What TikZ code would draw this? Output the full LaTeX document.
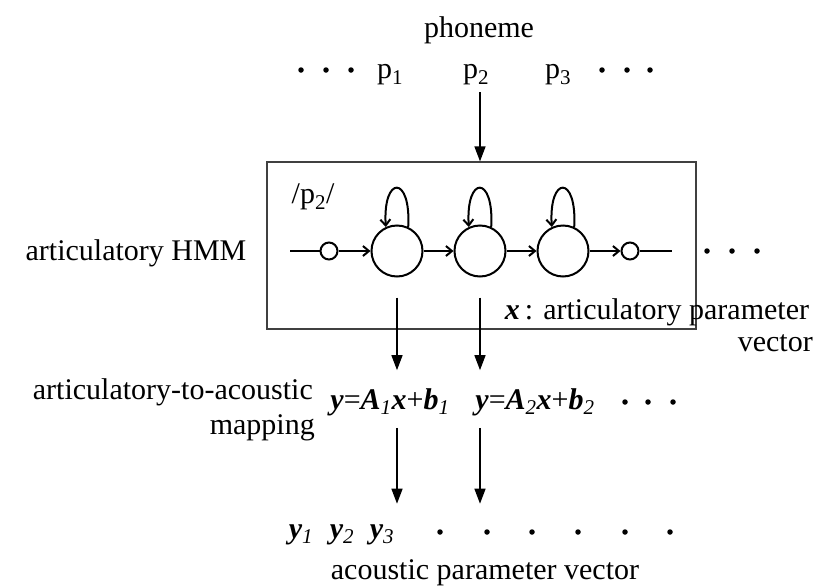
\documentclass[tikz,border=0pt]{standalone}
\usepackage{fontspec}
\setmainfont{Liberation Serif}
\usetikzlibrary{arrows.meta,positioning}

\newcommand{\bi}[1]{\textbf{\textit{#1}}}
\newcommand{\isub}[1]{\textsubscript{\textit{#1}}}

\begin{document}
\begin{tikzpicture}[x=1pt, y=-1pt,
	lbl/.style={font=\fontsize{30}{34}\selectfont, inner sep=0pt},
	state/.style={circle, draw, line width=2pt, minimum size=51pt, inner sep=0pt},
	endst/.style={circle, draw, line width=2pt, minimum size=17pt, inner sep=0pt},
	dot/.style={circle, fill, inner sep=0pt, minimum size=5.5pt},
	arr/.style={-{Triangle[length=15pt,width=11pt]}, line width=1.5pt},
	tr/.style={-{Straight Barb[length=6pt,width=10pt]}, line width=2pt}
]
	\useasboundingbox (0,0) rectangle (831,587);
	\node[lbl] (phon) at (479,30) {phoneme};
	\node[lbl] (p1) at (390,75) {p\textsubscript{1}};
	\node[lbl] (p2) at (476,75) {p\textsubscript{2}};
	\node[lbl] (p3) at (558,75) {p\textsubscript{3}};
	\foreach \x [count=\i] in {301,326,351} \node[dot] (pl\i) at (\x,70) {};
	\foreach \x [count=\i] in {602,627,650} \node[dot] (pr\i) at (\x,70) {};
	\node[draw=black!75, line width=1.2pt, minimum width=429pt, minimum height=167pt,
		inner sep=0pt] (hmm) at (481.5,245.5) {};
	\node[lbl] (plbl) at (313,197) {/p\textsubscript{2}/};
	\node[lbl] (hmmlbl) at (136,253) {articulatory HMM};
	\coordinate (in) at (290,251);
	\coordinate (out) at (672,251);
	\node[endst] (s0) at (329,251) {};
	\node[state] (s1) at (397,251) {};
	\node[state] (s2) at (480,251) {};
	\node[state] (s3) at (563,251) {};
	\node[endst] (s4) at (630,251) {};
	\foreach \x [count=\i] in {707,732,757} \node[dot] (hd\i) at (\x,251) {};
	\draw[line width=2pt] (in) -- (s0);
	\draw[tr] (s0) -- (s1);
	\draw[tr] (s1) -- (s2);
	\draw[tr] (s2) -- (s3);
	\draw[tr] (s3) -- (s4);
	\draw[line width=2pt] (s4) -- (out);
	\foreach \s in {s1,s2,s3}
		\draw[tr] (\s.65) .. controls +(3,-52) and +(-3,-52) .. (\s.115);
	\draw[arr, shorten <=7pt] (p2.south -| s2) -- (hmm.north -| s2);
	\node[lbl] (xlbl) at (657,312) {\bi{x}\,: articulatory parameter};
	\node[lbl, anchor=east] (xvec) at (813,343) {vector};
	\node[lbl, anchor=east] (maplbl) at (313,392) {articulatory-to-acoustic};
	\node[lbl, anchor=east] (maplbl2) at (315,428) {mapping};
	\node[lbl] (f1) at (390,402) {\bi{y}=\bi{A}\isub{1}\bi{x}+\bi{b}\isub{1}};
	\node[lbl] (f2) at (535,402) {\bi{y}=\bi{A}\isub{2}\bi{x}+\bi{b}\isub{2}};
	\foreach \x [count=\i] in {625,648,673} \node[dot] (fd\i) at (\x,402) {};
	\draw[arr, shorten <=20pt, shorten >=18pt] (s1.south) -- (s1 |- f1.north);
	\draw[arr, shorten <=20pt, shorten >=18pt] (s2.south) -- (s2 |- f2.north);
	\node[lbl] (y1) at (301,535) {\bi{y}\isub{1}};
	\node[lbl] (y2) at (342,535) {\bi{y}\isub{2}};
	\node[lbl] (y3) at (382,535) {\bi{y}\isub{3}};
	\foreach \x [count=\i] in {440,487,532,578,625,670} \node[dot] (yd\i) at (\x,532) {};
	\draw[arr, shorten <=12pt, shorten >=21pt] (s1 |- f1.south) -- (s1 |- y3.north);
	\draw[arr, shorten <=12pt, shorten >=21pt] (s2 |- f2.south) -- (s2 |- y3.north);
	\node[lbl] (aclbl) at (485,573) {acoustic parameter vector};
\end{tikzpicture}
\end{document}
